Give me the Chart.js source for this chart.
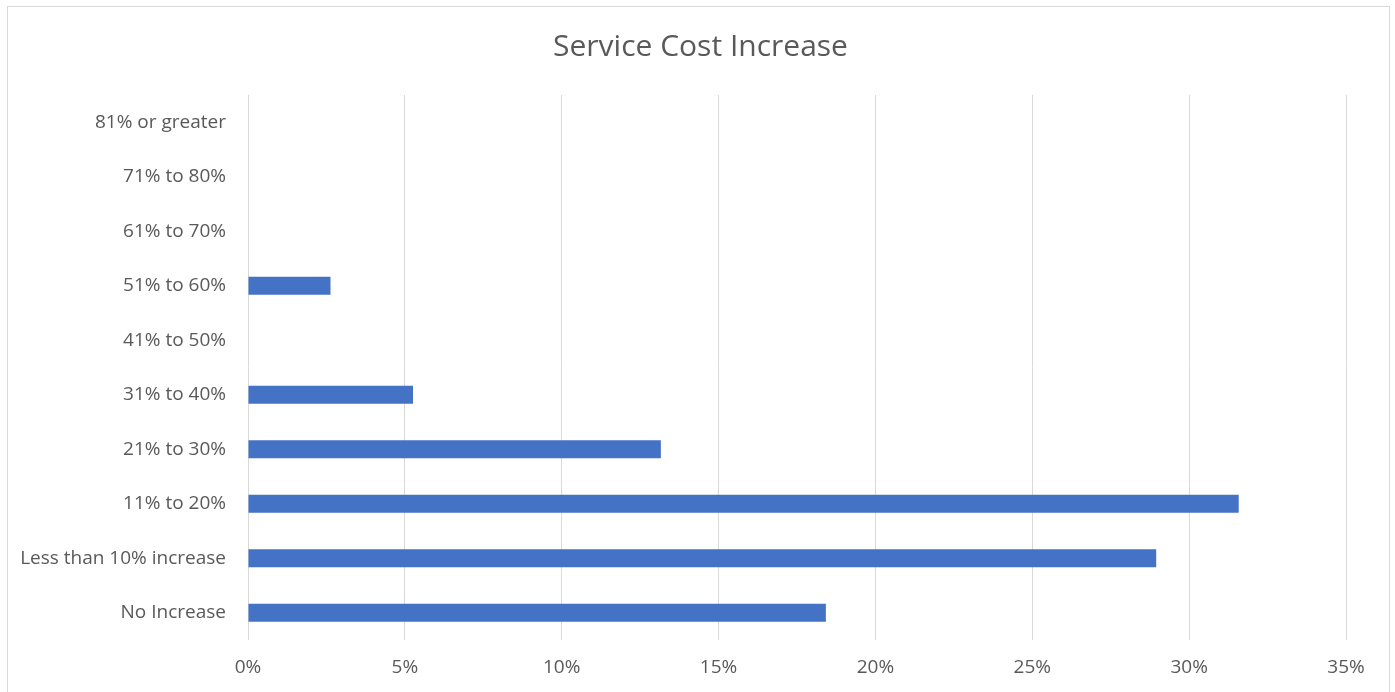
<!DOCTYPE html>
<html>
<head>
<meta charset="utf-8">
<script src="https://cdn.jsdelivr.net/npm/chart.js@4/dist/chart.umd.min.js"></script>
<style>
html,body{margin:0;padding:0;background:#fff;}
#wrap{position:relative;width:1395px;height:692px;}
</style>
</head>
<body>
<div id="wrap"><canvas id="c" width="1395" height="692"></canvas></div>
<script>
const categories = ["81% or greater","71% to 80%","61% to 70%","51% to 60%","41% to 50%","31% to 40%","21% to 30%","11% to 20%","Less than 10% increase","No Increase"];
const values = [0,0,0,2.63,0,5.26,13.16,31.58,28.95,18.42];
const tickValues = [0,5,10,15,20,25,30,35];
const titleText = "Service Cost Increase";

const FONT = "'Open Sans', 'Liberation Sans', sans-serif";
const GREY = "#595959";

const borderPlugin = {
  id: 'outerBorder',
  beforeDraw(chart) {
    const ctx = chart.ctx;
    ctx.save();
    ctx.fillStyle = '#fff';
    ctx.fillRect(0, 0, chart.width, chart.height);
    ctx.strokeStyle = '#d9d9d9';
    ctx.lineWidth = 1;
    ctx.strokeRect(7.5, 6.5, 1382, 700);
    ctx.restore();
  }
};

new Chart(document.getElementById('c'), {
  type: 'bar',
  data: {
    labels: categories,
    datasets: [{
      data: values,
      backgroundColor: '#4472C4',
      borderWidth: 0,
      categoryPercentage: 0.7,
      barPercentage: 0.47
    }]
  },
  plugins: [borderPlugin],
  options: {
    indexAxis: 'y',
    responsive: false,
    animation: false,
    layout: { padding: { left: 6, right: 0, top: 0, bottom: 0 } },
    plugins: {
      legend: { display: false },
      tooltip: { enabled: false },
      title: {
        display: true,
        text: titleText,
        color: GREY,
        font: { family: FONT, size: 30, weight: 'normal' },
        padding: { top: 29, bottom: 30 }
      }
    },
    scales: {
      x: {
        min: 0,
        max: 35,
        afterBuildTicks: s => { s.ticks = tickValues.map(v => ({ value: v })); },
        afterFit: s => { s.height = 52; },
        grid: { color: '#d9d9d9', drawTicks: false, lineWidth: 1 },
        border: { display: false },
        ticks: {
          color: GREY,
          font: { family: FONT, size: 19 },
          padding: 16,
          callback: v => v + '%'
        }
      },
      y: {
        afterFit: s => { s.width = 242; },
        grid: { display: false, drawTicks: false },
        border: { display: false },
        ticks: {
          color: GREY,
          font: { family: FONT, size: 19 },
          padding: 22
        }
      },
      yRight: {
        type: 'linear',
        axis: 'y',
        position: 'right',
        display: true,
        afterFit: s => { s.width = 49; },
        grid: { display: false, drawTicks: false },
        border: { display: false },
        ticks: { display: false }
      }
    }
  }
});
</script>
</body>
</html>
